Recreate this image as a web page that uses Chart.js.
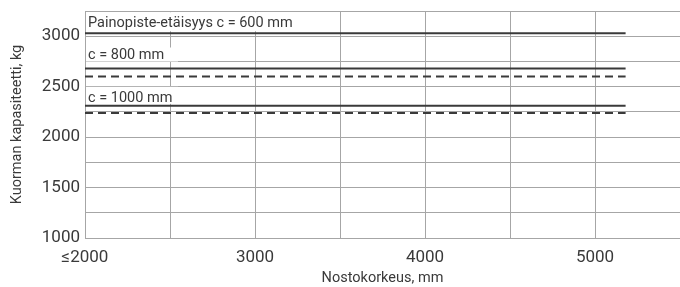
<!DOCTYPE html>
<html>
<head>
<meta charset="utf-8">
<script src="https://cdn.jsdelivr.net/npm/chart.js@4/dist/chart.umd.min.js"></script>
<style>
  html, body { margin: 0; padding: 0; background: #fff; }
  #wrap { width: 680px; height: 287px; position: relative; }
</style>
</head>
<body>
<div id="wrap"><canvas id="c" width="680" height="287"></canvas></div>
<script>
// Data
const liftHeights = [2000, 5180];               // Nostokorkeus, mm (start "≤2000", end)
const c600Solid  = [3030, 3030];
const c800Solid  = [2680, 2680];
const c800Dashed = [2600, 2600];
const c1000Solid = [2310, 2310];
const c1000Dashed= [2240, 2240];
const xTickLabels = {2000: '≤2000', 3000: '3000', 4000: '4000', 5000: '5000'};
const yTickLabels = {1000: '1000', 1500: '1500', 2000: '2000', 2500: '2500', 3000: '3000'};
const seriesLabels = ['Painopiste-etäisyys c = 600 mm', 'c = 800 mm', 'c = 1000 mm'];

const FONT = 'Roboto, "Noto Sans", sans-serif';
const TXT = '#3a3a3a';
const GRID = '#a6a6a6';
const LINE = '#3a3a3a';

function pts(vals) { return liftHeights.map((x, i) => ({x, y: vals[i]})); }

const labelPlugin = {
  id: 'seriesLabels',
  beforeDatasetsDraw(chart) {
    const {ctx, scales: {x, y}} = chart;
    const opts = chart.options.plugins.seriesLabels;
    ctx.save();
    ctx.font = '14.5px ' + FONT;
    ctx.textBaseline = 'middle';
    opts.items.forEach(it => {
      const left = x.getPixelForValue(liftHeights[0]);
      const py = y.getPixelForValue(it.value);
      const w = it.boxWidth || (ctx.measureText(it.text).width + 6);
      ctx.fillStyle = '#fff';
      ctx.fillRect(left + 1, py + it.boxTop, w, it.boxHeight);
      ctx.fillStyle = TXT;
      ctx.fillText(it.text, left + 3, py + it.textOffset);
    });
    ctx.restore();
  }
};

const solid = (data) => ({data: pts(data), borderColor: LINE, borderWidth: 2, pointRadius: 0, fill: false});
const dashed = (data) => ({data: pts(data), borderColor: LINE, borderWidth: 2, borderDash: [8, 5], pointRadius: 0, fill: false});

new Chart(document.getElementById('c'), {
  type: 'line',
  data: {
    datasets: [
      solid(c600Solid), solid(c800Solid), dashed(c800Dashed), solid(c1000Solid), dashed(c1000Dashed)
    ]
  },
  options: {
    responsive: false,
    animation: false,
    layout: { padding: { top: 11, right: 0, left: 0, bottom: 0 } },
    plugins: {
      legend: { display: false },
      tooltip: { enabled: false },
      seriesLabels: {
        items: [
          { text: seriesLabels[0], value: c600Solid[0], textOffset: -10, boxTop: -21, boxHeight: 19 },
          { text: seriesLabels[1], value: c800Solid[0], textOffset: -13, boxTop: -21, boxHeight: 14, boxWidth: 92 },
          { text: seriesLabels[2], value: c1000Solid[0], textOffset: -7, boxTop: -19, boxHeight: 17, boxWidth: 92 }
        ]
      }
    },
    scales: {
      x: {
        type: 'linear',
        min: 2000, max: 5500,
        afterBuildTicks(s) { s.ticks = []; for (let v = 2000; v <= 5500; v += 500) s.ticks.push({value: v}); },
        afterFit(s) { s.height = 49; s.paddingLeft = 0; s.paddingRight = 0; },
        ticks: {
          autoSkip: false, maxRotation: 0,
          color: TXT, font: { size: 17, family: FONT }, padding: 10,
          callback: (v) => xTickLabels[v] || ''
        },
        grid: { color: GRID, lineWidth: 1, drawTicks: false },
        border: { color: GRID, width: 1 },
        title: { display: true, text: 'Nostokorkeus, mm', color: TXT, font: { size: 14.5, family: FONT }, padding: { top: 4, bottom: 0 } }
      },
      y: {
        min: 1000, max: 3250,
        afterBuildTicks(s) { s.ticks = []; for (let v = 1000; v <= 3250; v += 250) s.ticks.push({value: v}); },
        afterFit(s) { s.width = 85; s.paddingTop = 0; s.paddingBottom = 0; },
        ticks: {
          autoSkip: false,
          color: TXT, font: { size: 17, family: FONT }, padding: 5,
          callback: (v) => yTickLabels[v] || ''
        },
        grid: { color: GRID, lineWidth: 1, drawTicks: false },
        border: { color: GRID, width: 1 },
        title: { display: true, text: 'Kuorman kapasiteetti, kg', color: TXT, font: { size: 14.5, family: FONT }, padding: { top: 9, bottom: 0 } }
      }
    }
  },
  plugins: [labelPlugin]
});
</script>
</body>
</html>
